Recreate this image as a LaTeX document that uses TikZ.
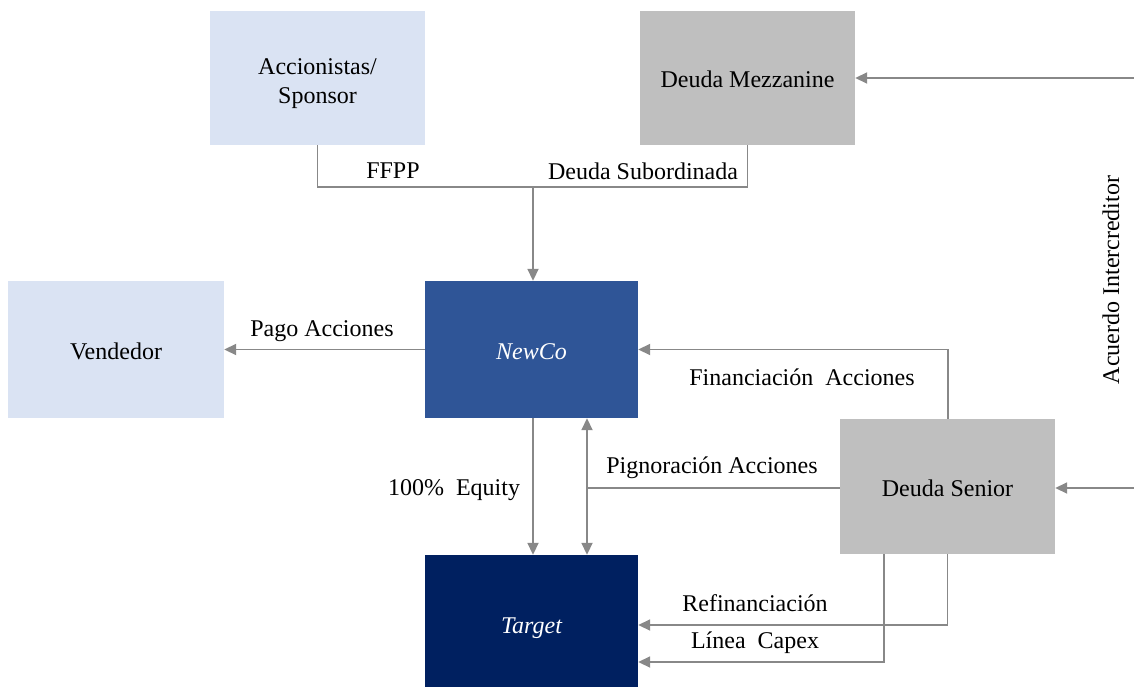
\documentclass[tikz,border=0pt]{standalone}
\usepackage{fontspec}
\setmainfont{Liberation Serif}
\usetikzlibrary{arrows.meta,calc}
\definecolor{lightblue}{HTML}{DAE3F3}
\definecolor{boxgray}{HTML}{BFBFBF}
\definecolor{newcoblue}{HTML}{2F5597}
\definecolor{targetblue}{HTML}{002060}
\definecolor{linegray}{HTML}{888888}
\tikzset{
  box/.style={minimum width=215pt, minimum height=135pt, inner sep=0pt, align=center, text=black,
    font=\fontsize{24}{29}\selectfont, text height=20pt, text depth=0pt},
  lbl/.style={inner sep=0pt, font=\fontsize{24}{29}\selectfont, text=black},
  ln/.style={draw=linegray, line width=1.8pt},
  arr/.style={ln, -{Triangle[length=12pt,width=11pt]}},
  darr/.style={ln, {Triangle[length=12pt,width=11pt]}-{Triangle[length=12pt,width=11pt]}}
}
\begin{document}
\begin{tikzpicture}[x=1pt,y=-1pt]
\useasboundingbox (0,0) rectangle (1134,687);
% boxes
\node[box, fill=lightblue, minimum height=134pt, text height=, text depth=] (acc) at (317.5,78) {\rule{0pt}{28pt}Accionistas/\\Sponsor};
\node[box, fill=boxgray, minimum height=134pt] (mez) at (747.5,78) {Deuda Mezzanine};
\node[box, fill=lightblue, minimum width=216pt, minimum height=137pt] (ven) at (116,349.5) {Vendedor};
\node[box, fill=newcoblue, minimum width=213pt, minimum height=137pt, text=white, font=\fontsize{24}{29}\selectfont\itshape] (newco) at (531.5,349.5) {NewCo};
\node[box, fill=boxgray] (sen) at (947.5,486.5) {Deuda Senior};
\node[box, fill=targetblue, minimum width=213pt, minimum height=132pt, text=white, text height=24pt, font=\fontsize{24}{29}\selectfont\itshape] (tgt) at (531.5,621) {Target};
% top funding
\coordinate (j) at (533,187);
\draw[ln] (acc.south) |- (j) -| (mez.south);
\draw[arr] (j) -- (j |- newco.north);
\node[lbl] (ffpp) at (393,171) {FFPP};
\node[lbl] (dsub) at (643,171) {Deuda Subordinada};
% pago acciones
\draw[arr] (newco.west) -- (ven.east);
\node[lbl] (pago) at (322,331) {Pago Acciones};
% financiacion acciones
\coordinate (fc) at ($(sen.north)+(0.5,0)$);
\draw[arr] (fc) |- (newco.east);
\node[lbl] (fin) at (802,377) {Financiación\ \ Acciones};
% intercreditor
\coordinate (ir1) at (1134,78);
\coordinate (ir2) at (1134,488);
\draw[arr] (ir1) -- (mez.east);
\draw[arr] (ir2) -- (ir2 -| sen.east);
\node[lbl, rotate=90] (inter) at (1111,280) {Acuerdo Intercreditor};
% equity
\coordinate (eq) at ($(newco.south)+(1.5,0)$);
\draw[arr] (eq) -- (eq |- tgt.north);
\node[lbl] (equity) at (454,490) {100\%\ \ Equity};
% pignoracion
\coordinate (pg) at ($(newco.south)+(55.5,0)$);
\draw[darr] (pg) -- (pg |- tgt.north);
\coordinate (pgm) at (pg |- 0,488);
\draw[ln] (pgm) -- (pgm -| sen.west);
\node[lbl] (pign) at (712,468) {Pignoración Acciones};
% refinanciacion
\coordinate (rf) at ($(sen.south)+(0,0)$);
\coordinate (rfc) at (rf |- 0,625);
\draw[arr] (rf) -- (rfc) -- (rfc -| tgt.east);
\node[lbl] (refi) at (755,603) {Refinanciación};
% capex
\coordinate (cx) at ($(sen.south)+(-63.5,0)$);
\coordinate (cxc) at (cx |- 0,662);
\draw[arr] (cx) -- (cxc) -- (cxc -| tgt.east);
\node[lbl] (capex) at (755,643) {Línea\ \ Capex};
\end{tikzpicture}
\end{document}
